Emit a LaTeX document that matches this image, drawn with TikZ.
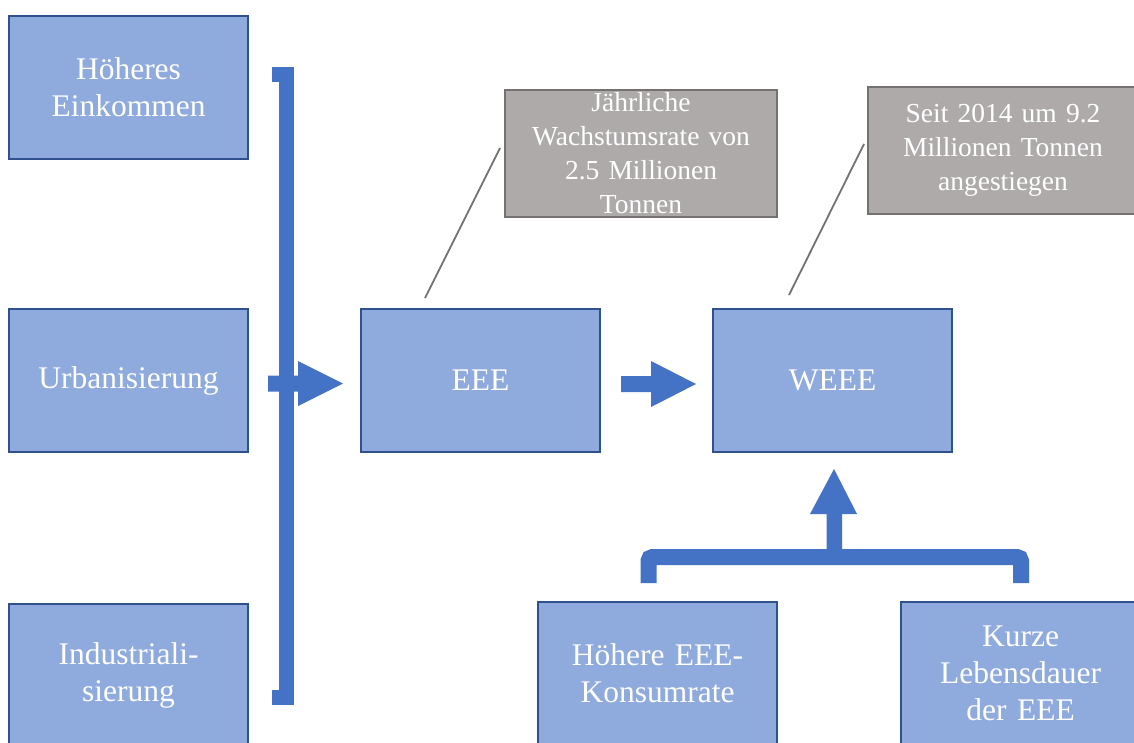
\documentclass[tikz,border=0pt]{standalone}
\usepackage{fontspec}
\setmainfont{Liberation Serif}
\definecolor{boxfill}{HTML}{8FAADC}
\definecolor{boxline}{HTML}{2F528F}
\definecolor{arrowblue}{HTML}{4472C4}
\definecolor{callfill}{HTML}{AEAAAA}
\definecolor{callline}{HTML}{767171}
\tikzset{
  bluebox/.style={rectangle, draw=boxline, line width=2pt, fill=boxfill, text=white,
    minimum width=239, minimum height=143, inner sep=2pt, align=center, text width=230,
    font=\fontsize{31.5}{37}\selectfont},
  callout/.style={rectangle, draw=callline, line width=2pt, fill=callfill, text=white,
    inner sep=2pt, align=center, font=\fontsize{27.5}{34}\selectfont},
  fatarrow/.style={fill=arrowblue, draw=none},
  bracketline/.style={draw=arrowblue, line width=15pt, line join=miter},
  leader/.style={draw=callline, line width=1.8pt}
}
\begin{document}
\begin{tikzpicture}[x=1pt,y=-1pt]
\useasboundingbox (0,0) rectangle (1134,742);
\clip (0,0) rectangle (1134,742);
\fill[white] (0,0) rectangle (1134,742);

\node[bluebox] (einkommen) at (128.5,87) {Höheres\\Einkommen};
\node[bluebox] (urban) at (128.5,380.5) {Urbanisierung};
\node[bluebox] (indus) at (128.5,675.5) {Industriali-\\sierung};
\node[bluebox] (eee) at (480.5,380.5) {EEE};
\node[bluebox] (weee) at (832.5,380.5) {WEEE};
\node[bluebox] (konsum) at (657.5,673.5) {Höhere EEE-\\Konsumrate};
\node[bluebox] (kurz) at (1020.5,673.5) {Kurze\\Lebensdauer\\der EEE};

\node[callout, minimum width=272, minimum height=127, text width=265] (call1) at (641,153.5)
  {Jährliche\\Wachstumsrate von\\2.5 Millionen\\Tonnen};
\node[callout, minimum width=270, minimum height=127, text width=262] (call2) at (1003,150.5)
  {Seit 2014 um 9.2\\Millionen Tonnen\\angestiegen};

\coordinate (l1a) at (425,298);
\coordinate (l1b) at (500,148);
\coordinate (l2a) at (789,295);
\coordinate (l2b) at (864,144);
\draw[leader] (l1a) -- (l1b);
\draw[leader] (l2a) -- (l2b);

% left bracket
\draw[bracketline] (272,74.5) -- (286.5,74.5) -- (286.5,697) -- (272,697);
% arrow into EEE
\fill[fatarrow] (268,375.5) -- (298,375.5) -- (298,361) -- (343,383.5) -- (298,406) -- (298,391.5) -- (268,391.5) -- cycle;
% arrow EEE -> WEEE
\fill[fatarrow] (621,376) -- (651,376) -- (651,361) -- (696,384) -- (651,407) -- (651,392) -- (621,392) -- cycle;
% bottom bracket
\draw[bracketline, line width=16pt, rounded corners=4pt] (648.5,583) -- (648.5,557) -- (1021,557) -- (1021,583);
% up arrow into WEEE
\fill[fatarrow] (826.5,552) -- (826.5,514) -- (810,514) -- (834,469) -- (857,514) -- (842,514) -- (842,552) -- cycle;
\end{tikzpicture}
\end{document}
